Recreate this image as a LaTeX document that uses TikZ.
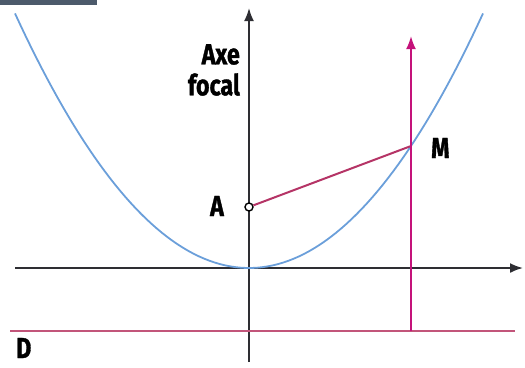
\documentclass[tikz,border=0pt]{standalone}
\usepackage{fontspec}
\newfontfamily\labelfont[FakeStretch=0.8, FakeBold=1.2]{Fira Sans}
\usetikzlibrary{arrows.meta}
\definecolor{axisgray}{HTML}{2E2E33}
\definecolor{parabblue}{HTML}{6B9FDA}
\definecolor{rayred}{HTML}{B53466}
\definecolor{tipmagenta}{HTML}{C4127A}
\definecolor{dirpink}{HTML}{C2557A}
\definecolor{bargray}{HTML}{4C5A6B}
\begin{document}
\begin{tikzpicture}[
    x=1pt, y=-1pt,
    axis/.style={axisgray, line width=1.8pt, -{Latex[length=13pt,width=10pt]}},
    parab/.style={parabblue, line width=1.8pt},
    ray/.style={rayred, line width=2pt},
    directrix/.style={dirpink, line width=2pt},
    lbl/.style={font=\labelfont\bfseries\fontsize{29}{31}\selectfont, text=black, inner sep=0pt}
]
\useasboundingbox (0,0) rectangle (525,367);

% top bar
\fill[bargray] (0,0) rectangle (97,5);

% axes
\coordinate (xs) at (15,268);
\coordinate (xe) at (523,268);
\coordinate (ys) at (249,362);
\coordinate (ye) at (249,8);
\draw[axis] (xs) -- (xe);
\draw[axis] (ys) -- (ye);

% parabola
\draw[parab] plot[domain=15:483, samples=90] (\x, {268-46.49*((\x-249)/100)^2});

% directrix
\coordinate (d1) at (10,331);
\coordinate (d2) at (515,331);
\draw[directrix] (d1) -- (d2);

% points
\coordinate (M) at (411,146);
\coordinate (Mfoot) at (411,331);
\coordinate (Mtop) at (411,36);
\node[circle, draw=black, fill=white, line width=1.4pt, minimum size=8pt, inner sep=0pt] (A) at (249,207) {};

\draw[ray] (A) -- (M);
\draw[ray, -{Latex[length=13pt,width=10pt]}, tipmagenta] (Mfoot) -- (Mtop);

% labels
\node[lbl, anchor=east] (lA) at (224,206) {A};
\node[lbl, anchor=west] (lM) at (431,148) {M};
\node[lbl, anchor=west] (lD) at (16,348) {D};
\node[lbl, anchor=north east, align=right] (lAxe) at (240,44) {Axe\\focal};
\end{tikzpicture}
\end{document}
